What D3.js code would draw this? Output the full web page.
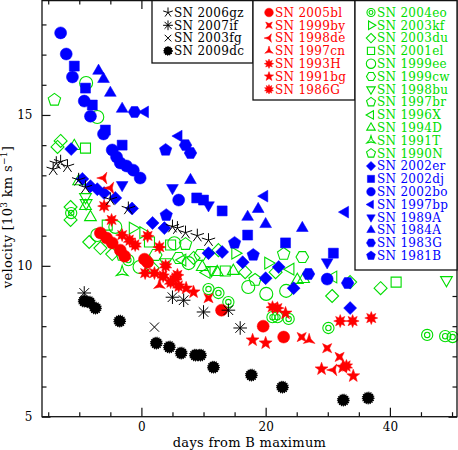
<!DOCTYPE html>
<html lang="en">
<head>
<meta charset="UTF-8" />
<title>Si II velocity vs. days from B maximum</title>
<script src="https://d3js.org/d3.v7.min.js"></script>
<style>
  body { margin: 0; background: #fff; }
  text { font-family: "DejaVu Serif", serif; }
</style>
</head>
<body>
<script>
    // [days from B max, velocity in 10^3 km/s] per supernova
    var sn2006gz = [[-14.2,13.2],[-13.7,13.4],[-13.0,13.45],[-11.9,13.3],[-10.1,12.85],[-9.0,12.6],[-5.0,12.2],[-2.1,11.9],[5.0,11.3],[5.8,11.25],[7.1,11.1],[9.0,11.0],[10.8,10.85]];
    var sn2007if = [[-9.2,9.1],[5.0,8.96],[6.8,8.86],[10.0,8.47],[14.0,8.53],[15.9,7.94]];
    var sn2003fg = [[2.1,7.97]];
    var sn2009dc = [[-9.2,8.83],[-8.4,8.8],[-7.4,8.6],[-3.5,8.17],[2.4,7.44],[4.5,7.31],[6.4,7.11],[8.7,7.04],[9.5,7.04],[11.6,6.64],[17.7,6.38],[22.7,5.98],[32.5,5.55],[36.5,5.62]];

    var sn2005bl = [[-6.6,11.09],[-5.6,10.92],[-4.7,10.76],[-3.4,10.52],[-2.7,10.32],[0.5,10.22],[1.0,10.12],[12.9,8.53],[19.6,8.0],[22.9,7.64]];
    var sn1999by = [[10.8,8.93],[25.8,7.64],[29.9,7.27],[31.9,6.98]];
    var sn1998de = [[-6.1,12.91],[-5.0,12.58],[30.9,6.55]];
    var sn1997cn = [[2.9,9.36],[27.0,7.54]];
    var sn1993H = [[-6.0,11.98],[-4.8,11.52],[-3.1,11.02],[1.0,10.99],[2.9,10.62],[0.6,9.76],[2.1,9.76],[5.8,9.7],[21.1,8.63],[21.9,8.6],[32.0,8.17],[34.0,8.17],[37.0,8.27]];
    var sn1991bg = [[7.2,9.26],[8.4,9.13],[17.9,7.54],[20.0,7.44],[23.2,8.43],[29.0,6.58],[32.4,6.64],[34.1,6.35]];
    var sn1986G = [[-1.9,10.85],[-1.0,10.69],[3.5,9.66],[3.9,10.0],[4.7,9.46],[5.5,9.6],[6.0,9.33],[33.0,6.68]];

    var sn2004eo = [[-11.3,11.75],[-2.1,10.19],[10.8,9.23],[12.4,9.1],[14.0,8.8],[21.1,8.3],[21.9,8.3],[23.7,8.24],[30.1,7.94],[46.0,7.71],[48.9,7.67],[50.1,7.64]];
    var sn2003kf = [[-1.4,11.25],[0.3,11.1],[15.1,10.42],[20.4,10.09]];
    var sn2003du = [[-13.0,14.14],[-13.5,13.94],[-11.4,11.95],[-11.4,11.52],[-8.4,10.79],[-6.6,10.59],[-4.7,10.39],[1.8,9.93],[8.4,10.26],[12.4,10.52],[16.7,9.79],[21.6,9.79],[30.7,9.0],[33.6,9.46],[38.5,9.26]];
    var sn2001el = [[-9.0,13.9],[-5.5,11.35],[1.3,10.79],[4.7,10.69],[13.5,9.83],[41.0,9.46]];
    var sn1999ee = [[-8.9,16.06],[-7.1,14.93],[-7.1,11.02],[-4.2,11.29],[-0.3,9.96],[5.3,10.75],[7.6,10.09],[17.2,9.3],[20.1,9.07],[23.3,9.17]];
    var sn1999cw = [[2.3,10.36],[6.0,10.26],[9.5,10.36],[25.9,10.29]];
    var sn1998bu = [[-9.0,12.28],[-8.9,12.08],[3.9,10.12],[11.3,9.86],[49.1,9.53]];
    var sn1997br = [[-14.0,15.5],[22.9,10.39]];
    var sn1996X = [[6.6,10.19],[10.5,9.78],[24.0,9.89],[30.9,9.63]];
    var sn1994D = [[-10.8,13.97],[-10.1,12.8],[-9.0,11.98],[-8.2,11.61],[9.8,9.96],[12.2,9.79],[14.8,9.83],[25.1,9.53],[26.1,9.56]];
    var sn1991T = [[-3.1,9.79]];
    var sn1990N = [[-3.1,10.36],[7.1,10.72],[18.3,9.53]];

    var sn2002er = [[-11.3,13.87],[-9.5,12.88],[-8.2,12.64],[-7.1,12.54],[-6.0,12.41],[-4.2,12.25],[-1.5,11.9],[1.8,11.42],[3.7,11.25],[10.8,10.42],[13.0,10.46],[16.3,10.12],[20.0,9.59],[22.1,9.96],[24.5,9.26],[33.6,8.6]];
    var sn2002dj = [[-10.8,16.62],[-9.0,15.89],[-7.9,15.33],[-5.8,14.5],[-3.1,14.0],[8.9,12.25],[10.0,12.18],[13.0,11.82],[17.1,11.02],[23.2,10.76],[30.9,10.42]];
    var sn2002bo = [[-13.0,17.72],[-12.1,17.02],[-11.1,16.26],[-9.2,15.46],[-8.2,14.96],[-6.1,14.37],[-4.7,13.84],[-4.0,13.61],[-3.4,13.41],[-2.4,13.31],[-1.3,13.17],[-0.2,12.91],[6.0,12.18],[29.9,9.56]];
    var sn1997bp = [[0.6,15.1],[6.0,14.3],[19.8,12.31],[32.8,11.78]];
    var sn1989A = [[-3.1,12.68],[5.0,12.58],[10.8,12.01],[29.9,10.12]];
    var sn1984A = [[-6.9,16.46],[-6.1,16.19],[-5.0,15.73],[-3.1,15.2],[7.9,12.84],[17.1,11.62],[18.8,11.88],[20.0,11.38],[25.9,11.25]];
    var sn1983G = [[-1.1,15.1],[7.1,14.0],[7.9,13.74],[26.9,9.73],[33.2,9.43]];
    var sn1981B = [[3.9,13.84],[4.0,11.68],[15.0,10.76],[18.0,10.36]];

    var xMajor = [0, 20, 40];
    var xMinor = [-15, -10, -5, 5, 10, 15, 25, 30, 35, 45, 50];
    var yMajor = [5, 10, 15];
    var yMinor = [6, 7, 8, 9, 11, 12, 13, 14, 16, 17, 18];

    var black = "#000000", red = "#ff0000", green = "#00dd00", blue = "#0000ff";

    // legend boxes: name, data, colour, marker
    var box1 = [
        ["SN 2006gz", sn2006gz, black, "spoke5"],
        ["SN 2007if", sn2007if, black, "spoke8"],
        ["SN 2003fg", sn2003fg, black, "cross"],
        ["SN 2009dc", sn2009dc, black, "fuzzy"]
    ];
    var box2 = [
        ["SN 2005bl", sn2005bl, red, "circle"],
        ["SN 1999by", sn1999by, red, "bowtie"],
        ["SN 1998de", sn1998de, red, "prongLeft"],
        ["SN 1997cn", sn1997cn, red, "prongUp"],
        ["SN 1993H", sn1993H, red, "burst8"],
        ["SN 1991bg", sn1991bg, red, "star5"],
        ["SN 1986G", sn1986G, red, "burst10"]
    ];
    var box3 = [
        ["SN 2004eo", sn2004eo, green, "circledot"],
        ["SN 2003kf", sn2003kf, green, "triRight"],
        ["SN 2003du", sn2003du, green, "diamond"],
        ["SN 2001el", sn2001el, green, "square"],
        ["SN 1999ee", sn1999ee, green, "circle"],
        ["SN 1999cw", sn1999cw, green, "hexagon"],
        ["SN 1998bu", sn1998bu, green, "triDown"],
        ["SN 1997br", sn1997br, green, "pentagon"],
        ["SN 1996X", sn1996X, green, "triLeft"],
        ["SN 1994D", sn1994D, green, "triUp"],
        ["SN 1991T", sn1991T, green, "prongUp"],
        ["SN 1990N", sn1990N, green, "pentagon"],
        ["SN 2002er", sn2002er, blue, "diamond"],
        ["SN 2002dj", sn2002dj, blue, "square"],
        ["SN 2002bo", sn2002bo, blue, "circle"],
        ["SN 1997bp", sn1997bp, blue, "triLeft"],
        ["SN 1989A", sn1989A, blue, "triDown"],
        ["SN 1984A", sn1984A, blue, "triUp"],
        ["SN 1983G", sn1983G, blue, "hexagon"],
        ["SN 1981B", sn1981B, blue, "pentagon"]
    ];

    var w = 458, h = 450;
    var plotLeft = 42, plotRight = 457, plotTop = 0, plotBottom = 416.7;

    var svg = d3.select("body").append("svg")
        .attr("width", w)
        .attr("height", h);

    var xScale = d3.scaleLinear().domain([-16, 50.8]).range([plotLeft, plotRight]);
    var yScale = d3.scaleLinear().domain([5, 18.81]).range([plotBottom, plotTop]);

    // marker geometry
    function circlePath(r) {
        return "M" + r + ",0A" + r + "," + r + " 0 1,1 " + (-r) + ",0A" + r + "," + r + " 0 1,1 " + r + ",0Z";
    }
    function polyPath(n, r, rot) {
        var pts = d3.range(n).map(function(i) {
            var a = rot + i * 2 * Math.PI / n;
            return [r * Math.cos(a), r * Math.sin(a)];
        });
        return "M" + pts.join("L") + "Z";
    }
    function starPath(n, ro, ri, rot) {
        var pts = d3.range(2 * n).map(function(i) {
            var r = i % 2 ? ri : ro;
            var a = rot + i * Math.PI / n;
            return [r * Math.cos(a), r * Math.sin(a)];
        });
        return "M" + pts.join("L") + "Z";
    }
    function spokesPath(n, r, rot) {
        return d3.range(n).map(function(i) {
            var a = rot + i * 2 * Math.PI / n;
            return "M0,0L" + r * Math.cos(a) + "," + r * Math.sin(a);
        }).join("");
    }

    var up = -Math.PI / 2;

    function drawMarker(g, shape, color, s) {
        var filled = color !== green;
        var p;
        switch (shape) {
            case "circle": p = circlePath((filled ? 6 : 6.5) * s); break;
            case "square": p = "M" + (-5 * s) + "," + (-5 * s) + "h" + 10 * s + "v" + 10 * s + "h" + (-10 * s) + "Z"; break;
            case "diamond": p = polyPath(4, 6.5 * s, up); break;
            case "triUp": p = polyPath(3, 6.8 * s, up); break;
            case "triDown": p = polyPath(3, 6.8 * s, -up); break;
            case "triLeft": p = polyPath(3, 6.8 * s, Math.PI); break;
            case "triRight": p = polyPath(3, 6.8 * s, 0); break;
            case "pentagon": p = polyPath(5, 6.5 * s, up); break;
            case "hexagon": p = polyPath(6, 6.3 * s, 0); break;
            case "star5": p = starPath(5, 6.8 * s, 2.8 * s, up); break;
            case "burst8": p = starPath(8, 6.5 * s, 3.4 * s, up); break;
            case "burst10": p = starPath(10, 6.5 * s, 3.8 * s, up); break;
            case "prongUp": p = starPath(3, 6.8 * s, 2.0 * s, up); break;
            case "prongLeft": p = starPath(3, 6.8 * s, 2.0 * s, Math.PI); break;
            case "bowtie": p = starPath(4, 6.5 * s, 2.4 * s, Math.PI / 4); break;
        }
        if (p) {
            g.append("path")
                .attr("d", p)
                .attr("fill", filled ? color : "none")
                .attr("stroke", color)
                .attr("stroke-width", filled ? 0.5 : 1.1);
            return;
        }
        if (shape === "circledot") {
            g.append("path").attr("d", circlePath(5.6 * s) + circlePath(2.7 * s))
                .attr("fill", "none").attr("stroke", color).attr("stroke-width", 1.1);
        } else if (shape === "spoke5") {
            g.append("path").attr("d", spokesPath(5, 7 * s, up))
                .attr("stroke", color).attr("stroke-width", 1);
        } else if (shape === "spoke8") {
            g.append("path").attr("d", spokesPath(8, 6.8 * s, up))
                .attr("stroke", color).attr("stroke-width", 1);
        } else if (shape === "cross") {
            g.append("path").attr("d", spokesPath(4, 6.5 * s, Math.PI / 4))
                .attr("stroke", color).attr("stroke-width", 1);
        } else if (shape === "fuzzy") {
            g.append("path").attr("d", circlePath(5.6 * s))
                .attr("fill", color).attr("stroke", color)
                .attr("stroke-width", 1.6).attr("stroke-dasharray", "1,1");
        }
    }

    // data points: green first, then blue, red and black on top
    var drawOrder = box3.slice(0, 12).concat(box3.slice(12), box2, box1);
    var plot = svg.append("g");
    drawOrder.forEach(function(sn) {
        plot.selectAll(null)
            .data(sn[1])
            .enter()
            .append("g")
            .attr("transform", function(d) {
                return "translate(" + xScale(d[0]) + "," + yScale(d[1]) + ")";
            })
            .each(function() {
                drawMarker(d3.select(this), sn[3], sn[2], 1);
            });
    });

    // axes with inward ticks on all four sides
    function styleAxis(g) {
        g.select(".domain").remove();
        g.selectAll("line").attr("stroke", "#111").attr("stroke-width", 1.2);
        g.selectAll("text").attr("font-family", "DejaVu Serif").attr("font-size", 12).attr("fill", "#000");
    }

    svg.append("g").attr("transform", "translate(0," + plotBottom + ")")
        .call(d3.axisBottom(xScale).tickValues(xMajor).tickSize(-9).tickPadding(6).tickFormat(d3.format("d")))
        .call(styleAxis);
    svg.append("g").attr("transform", "translate(0," + plotBottom + ")")
        .call(d3.axisBottom(xScale).tickValues(xMinor).tickSize(-4.5).tickFormat(""))
        .call(styleAxis);
    svg.append("g").attr("transform", "translate(0," + plotTop + ")")
        .call(d3.axisTop(xScale).tickValues(xMajor).tickSize(-9).tickFormat(""))
        .call(styleAxis);
    svg.append("g").attr("transform", "translate(0," + plotTop + ")")
        .call(d3.axisTop(xScale).tickValues(xMinor).tickSize(-4.5).tickFormat(""))
        .call(styleAxis);

    svg.append("g").attr("transform", "translate(" + plotLeft + ",0)")
        .call(d3.axisLeft(yScale).tickValues(yMajor).tickSize(-8.5).tickPadding(9.5).tickFormat(d3.format("d")))
        .call(styleAxis);
    svg.append("g").attr("transform", "translate(" + plotLeft + ",0)")
        .call(d3.axisLeft(yScale).tickValues(yMinor).tickSize(-4.5).tickFormat(""))
        .call(styleAxis);
    svg.append("g").attr("transform", "translate(" + plotRight + ",0)")
        .call(d3.axisRight(yScale).tickValues(yMajor).tickSize(-8.5).tickFormat(""))
        .call(styleAxis);
    svg.append("g").attr("transform", "translate(" + plotRight + ",0)")
        .call(d3.axisRight(yScale).tickValues(yMinor).tickSize(-4.5).tickFormat(""))
        .call(styleAxis);

    // frame
    svg.append("rect")
        .attr("x", plotLeft).attr("y", plotTop + 0.6)
        .attr("width", plotRight - plotLeft).attr("height", plotBottom - plotTop - 0.6)
        .attr("fill", "none").attr("stroke", "#111").attr("stroke-width", 1.3);

    // axis titles
    svg.append("text")
        .attr("x", 249.5)
        .attr("y", 447)
        .attr("text-anchor", "middle")
        .attr("font-size", 13)
        .attr("letter-spacing", 0.3)
        .text("days from B maximum");

    var yTitle = svg.append("text")
        .attr("transform", "translate(12,217) rotate(-90)")
        .attr("text-anchor", "middle")
        .attr("font-size", 13)
        .attr("letter-spacing", 0.3);
    yTitle.append("tspan").text("velocity [10");
    yTitle.append("tspan").attr("font-size", 9).attr("dy", -5.5).text("3");
    yTitle.append("tspan").attr("dy", 5.5).text(" km s");
    yTitle.append("tspan").attr("font-size", 9).attr("dy", -5.5).text("\u22121");
    yTitle.append("tspan").attr("dy", 5.5).text("]");

    // legends
    function drawLegend(entries, x0, x1, y1) {
        var g = svg.append("g");
        g.append("rect")
            .attr("x", x0).attr("y", 0.6)
            .attr("width", x1 - x0).attr("height", y1 - 0.6)
            .attr("fill", "#fff").attr("stroke", "#111").attr("stroke-width", 1.3);
        entries.forEach(function(sn, i) {
            var cy = 12.5 + i * 12.8;
            var m = g.append("g").attr("transform", "translate(" + (x0 + 16) + "," + cy + ")");
            drawMarker(m, sn[3], sn[2], 0.72);
            g.append("text")
                .attr("x", x0 + 22)
                .attr("y", cy + 4.3)
                .attr("font-size", 12)
                .attr("letter-spacing", 0.3)
                .attr("fill", sn[2])
                .text(sn[0]);
        });
    }
    drawLegend(box1, 152, 253, 63);
    drawLegend(box2, 253, 355, 100);
    drawLegend(box3, 355, plotRight, 270);
</script>
</body>
</html>
